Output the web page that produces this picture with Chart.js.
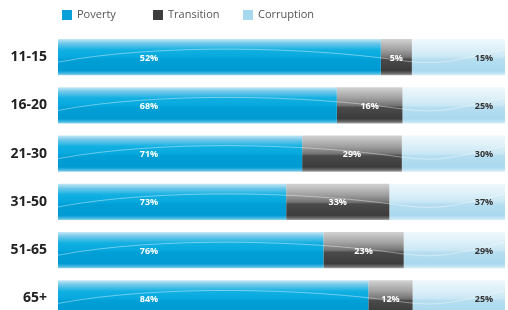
<!DOCTYPE html>
<html>
<head>
<meta charset="utf-8">
<script src="https://cdn.jsdelivr.net/npm/chart.js@4"></script>
<style>
  html, body { margin: 0; padding: 0; background: #fff; overflow: hidden; }
  canvas { display: block; }
</style>
</head>
<body>
<canvas id="chart" width="508" height="342"></canvas>
<script>
const categories = ["11-15", "16-20", "21-30", "31-50", "51-65", "65+"];
const poverty = [52, 68, 71, 73, 76, 84];
const transition = [5, 16, 29, 33, 23, 12];
const corruption = [15, 25, 30, 37, 29, 25];

// each row fills the full width, so segments are shares of the row total
const rowTotals = categories.map((_, i) => poverty[i] + transition[i] + corruption[i]);
const share = arr => arr.map((v, i) => v / rowTotals[i] * 100);

const stops = {
  Poverty: [[0, "#c4e7f6"], [0.12, "#70c8ea"], [0.3, "#12b0e2"], [0.5, "#06a8de"], [0.56, "#009fd6"], [0.87, "#009ad1"], [0.95, "#45b8e3"], [1, "#93d4ef"]],
  Transition: [[0, "#d2d2d2"], [0.3, "#a0a0a0"], [0.5, "#747474"], [0.56, "#4a4a4a"], [0.87, "#3b3b3b"], [0.95, "#6c6c6c"], [1, "#a6a6a6"]],
  Corruption: [[0, "#eff8fc"], [0.3, "#dbeff8"], [0.5, "#c9e7f4"], [0.56, "#b6def0"], [0.87, "#aad8ee"], [0.95, "#c2e4f3"], [1, "#d9eef8"]]
};

function barGradient(ctx) {
  const chart = ctx.chart;
  const y = chart.scales.y;
  if (!y || y.height == null) return stops[ctx.dataset.label][3][1];
  const c = y.getPixelForValue(ctx.dataIndex);
  const h = y.height / categories.length * 0.75 / 2;
  const g = chart.ctx.createLinearGradient(0, c - h, 0, c + h);
  stops[ctx.dataset.label].forEach(s => g.addColorStop(s[0], s[1]));
  return g;
}

const wavePlugin = {
  id: "wave",
  afterDatasetsDraw(chart) {
    const { ctx, chartArea: a, scales: { y } } = chart;
    const h = y.height / categories.length * 0.75 / 2;
    categories.forEach((_, i) => {
      const c = y.getPixelForValue(i);
      ctx.save();
      ctx.beginPath();
      ctx.rect(a.left, c - h, a.right - a.left, 2 * h);
      ctx.clip();
      ctx.beginPath();
      ctx.moveTo(a.left, c + 5);
      ctx.bezierCurveTo(a.left + 100, c - 14, a.left + 250, c - 10, a.left + 340, c + 3);
      ctx.bezierCurveTo(a.left + 380, c + 8, a.right - 60, c + 6, a.right, c - 8);
      ctx.strokeStyle = "rgba(255,255,255,0.4)";
      ctx.lineWidth = 1;
      ctx.stroke();
      ctx.restore();
    });
  }
};

const valueLabels = {
  id: "valueLabels",
  afterDatasetsDraw(chart) {
    const { ctx, chartArea: a } = chart;
    const raw = [poverty, transition, corruption];
    ctx.save();
    ctx.font = "bold 9px 'Open Sans'";
    ctx.textAlign = "center";
    ctx.textBaseline = "middle";
    chart.data.datasets.forEach((ds, d) => {
      chart.getDatasetMeta(d).data.forEach((el, i) => {
        let x;
        if (d === 0) x = a.left + 91;
        else if (d === 1) x = (el.x + el.base) / 2;
        else x = a.right - 21;
        ctx.fillStyle = d === 2 ? "#333" : "#fff";
        ctx.fillText(raw[d][i] + "%", x, el.y + 1);
      });
    });
    ctx.restore();
  }
};

const legendPlugin = {
  id: "topLegend",
  afterDraw(chart) {
    const { ctx } = chart;
    const xs = [62, 153, 243];
    const colors = ["#0aa0d8", "#3d3d3d", "#a6d8ef"];
    ctx.save();
    ctx.font = "11px 'Open Sans'";
    ctx.textBaseline = "middle";
    ctx.textAlign = "left";
    chart.data.datasets.forEach((ds, d) => {
      ctx.fillStyle = colors[d];
      ctx.fillRect(xs[d], 10, 10, 10);
      ctx.fillStyle = "#555";
      ctx.fillText(ds.label, xs[d] + 15, 15);
    });
    ctx.restore();
  }
};

new Chart(document.getElementById("chart"), {
  type: "bar",
  data: {
    labels: categories,
    datasets: [
      { label: "Poverty", data: share(poverty) },
      { label: "Transition", data: share(transition) },
      { label: "Corruption", data: share(corruption) }
    ].map(ds => Object.assign(ds, {
      backgroundColor: barGradient,
      borderWidth: 0,
      borderSkipped: false,
      categoryPercentage: 0.75,
      barPercentage: 1
    }))
  },
  options: {
    indexAxis: "y",
    responsive: false,
    animation: false,
    layout: { padding: { top: 33, right: 3, left: 0, bottom: 0 } },
    plugins: {
      legend: { display: false },
      tooltip: { enabled: false }
    },
    scales: {
      x: { stacked: true, min: 0, max: 100, display: false },
      y: {
        stacked: true,
        grid: { display: false, drawTicks: false },
        border: { display: false },
        ticks: {
          color: "#222",
          padding: 11,
          font: { family: "'Open Sans'", size: 14, weight: "bold" }
        },
        afterFit: s => { s.width = 58; }
      }
    }
  },
  plugins: [wavePlugin, valueLabels, legendPlugin]
});
</script>
</body>
</html>
